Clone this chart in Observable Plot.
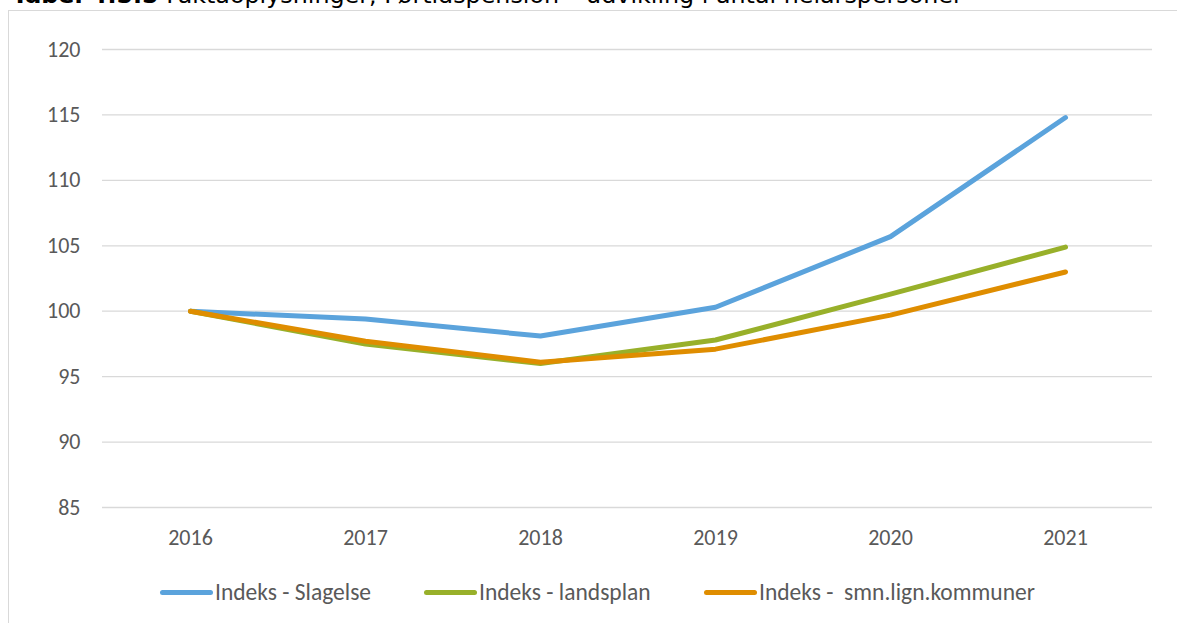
<!DOCTYPE html>
<html><head><meta charset="utf-8">
<script src="https://cdn.jsdelivr.net/npm/d3@7"></script>
<script src="https://cdn.jsdelivr.net/npm/@observablehq/plot@0.6"></script>
<style>
body{margin:0;background:#fff;width:1177px;height:623px;overflow:hidden;position:relative;font-family:Carlito,Lato,"Liberation Sans",sans-serif;}
#title{position:absolute;left:12px;top:-17px;line-height:24px;font-family:"DejaVu Sans",Verdana,sans-serif;font-size:23.8px;color:#000;white-space:nowrap;}
#box{position:absolute;left:8px;top:10px;width:1200px;height:700px;border:1.5px solid #d9d9d9;box-sizing:border-box;}
#chart{position:absolute;left:0;top:0;}
#legend{position:absolute;top:579px;left:0;width:1177px;height:26px;font-size:23.5px;color:#595959;}
.item{position:absolute;top:0;display:flex;align-items:center;height:26px;}
.sw{width:53px;height:5px;border-radius:3px;margin-right:2px;}
</style></head><body>
<div id="title"><b>Tabel 4.5.5</b> Faktaoplysninger, Førtidspension – udvikling i antal helårspersoner</div>
<div id="box"></div>
<div id="chart"></div>
<div id="legend"></div>
<script>
const years = ["2016","2017","2018","2019","2020","2021"];
const seriesNames = ["Indeks - Slagelse","Indeks - landsplan","Indeks -  smn.lign.kommuner"];
const slagelse = [100, 99.4, 98.1, 100.3, 105.7, 114.8];
const landsplan = [100, 97.5, 96.0, 97.8, 101.3, 104.9];
const smnLign = [100, 97.7, 96.1, 97.1, 99.7, 103.0];
const yTicks = [85, 90, 95, 100, 105, 110, 115, 120];
const colors = ["#5BA3DC", "#98B02A", "#DF8D00"];

const allSeries = [slagelse, landsplan, smnLign];
const data = [];
allSeries.forEach((vals, si) => vals.forEach((v, i) => data.push({year: years[i], value: v, series: seriesNames[si]})));

const plot = Plot.plot({
  width: 1177,
  height: 557,
  marginLeft: 102,
  marginRight: 25,
  marginTop: 49,
  marginBottom: 50,
  style: {fontFamily: "Carlito, Lato, 'Liberation Sans', sans-serif", fontSize: "22px", color: "#595959", background: "transparent"},
  x: {type: "point", domain: years, padding: 0.5, label: null, tickSize: 0, tickPadding: 22},
  y: {domain: [85, 120], ticks: yTicks, label: null, tickSize: 0, tickPadding: 22},
  color: {domain: seriesNames, range: colors},
  marks: [
    Plot.ruleY(yTicks, {stroke: "#d9d9d9", strokeWidth: 1.3, strokeOpacity: 1}),
    Plot.line(data, {x: "year", y: "value", z: "series", stroke: "series", strokeWidth: 5, strokeLinecap: "round", strokeLinejoin: "round"})
  ]
});
document.getElementById("chart").appendChild(plot);

const lefts = [160, 424, 704];
const legend = document.getElementById("legend");
seriesNames.forEach((n, i) => {
  const it = document.createElement("div");
  it.className = "item";
  it.style.left = lefts[i] + "px";
  it.innerHTML = `<div class="sw" style="background:${colors[i]}"></div><span style="white-space:pre">${n}</span>`;
  legend.appendChild(it);
});
</script>
</body></html>
